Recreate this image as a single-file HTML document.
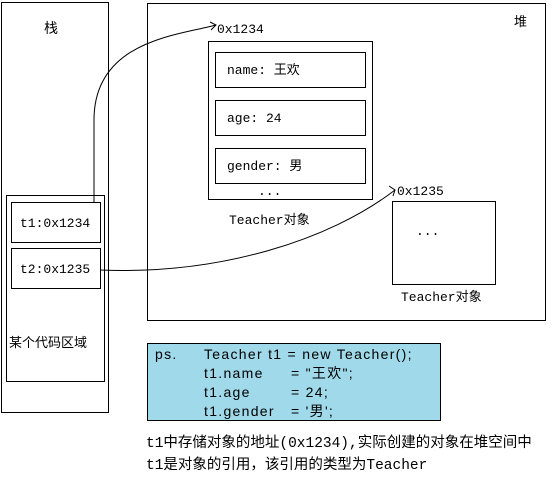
<!DOCTYPE html>
<html><head><meta charset="utf-8"><style>
body{margin:0;width:552px;height:485px;background:#fff;position:relative;overflow:hidden;font-family:"Liberation Mono","Noto Sans CJK SC",monospace;font-size:13px;color:#000}
.b{position:absolute;border:1px solid #000;box-sizing:border-box}
.t{position:absolute;white-space:pre;line-height:15px}
.c{position:absolute;white-space:pre;line-height:15px;font-family:'Liberation Sans','Noto Sans CJK SC',sans-serif;font-size:14px;letter-spacing:1.3px}
</style></head><body>
<div class="b" style="left:1px;top:2px;width:108px;height:411px"></div>
<div class="t" style="left:44px;top:21px;font-size:14px;font-family:'Noto Sans CJK SC',sans-serif">栈</div>
<div class="b" style="left:6px;top:195px;width:99px;height:187px"></div>
<div class="b" style="left:11px;top:202px;width:90px;height:41px"></div>
<div class="t" style="left:20px;top:216px">t1:0x1234</div>
<div class="b" style="left:11px;top:248px;width:90px;height:41px"></div>
<div class="t" style="left:20px;top:262px">t2:0x1235</div>
<div class="t" style="left:9px;top:334px;font-family:'Noto Sans CJK SC',sans-serif">某个代码区域</div>

<div class="b" style="left:147px;top:3px;width:399px;height:318px"></div>
<div class="t" style="left:514px;top:13px;font-family:'Noto Sans CJK SC',sans-serif">堆</div>
<div class="t" style="left:217px;top:22px">0x1234</div>
<div class="b" style="left:208px;top:41px;width:165px;height:159px"></div>
<div class="b" style="left:215px;top:52px;width:151px;height:36px"></div>
<div class="t" style="left:227px;top:63px">name: 王欢</div>
<div class="b" style="left:215px;top:100px;width:151px;height:36px"></div>
<div class="t" style="left:227px;top:111px">age: 24</div>
<div class="b" style="left:215px;top:148px;width:151px;height:36px"></div>
<div class="t" style="left:227px;top:159px">gender: 男</div>
<div class="t" style="left:258px;top:184px">...</div>
<div class="t" style="left:229px;top:213px">Teacher对象</div>
<div class="t" style="left:397px;top:184px">0x1235</div>
<div class="b" style="left:392px;top:201px;width:104px;height:84px"></div>
<div class="t" style="left:416px;top:224px">...</div>
<div class="t" style="left:401px;top:290px">Teacher对象</div>

<div class="b" style="left:147px;top:343px;width:294px;height:78px;background:#9fd9ea"></div>
<div class="c" style="left:155px;top:347px">ps.</div>
<div class="c" style="left:204px;top:347px">Teacher t1 = new Teacher();</div>
<div class="c" style="left:204px;top:366px">t1.name</div>
<div class="c" style="left:204px;top:385px">t1.age</div>
<div class="c" style="left:204px;top:404px">t1.gender</div>
<div class="c" style="left:291px;top:366px">= "王欢";</div>
<div class="c" style="left:291px;top:385px">= 24;</div>
<div class="c" style="left:291px;top:404px">= '男';</div>
<div class="t" style="left:146px;top:433px;line-height:22px;font-size:14.5px">t1中存储对象的地址(0x1234),实际创建的对象在堆空间中
t1是对象的引用，该引用的类型为Teacher</div>

<svg width="552" height="485" style="position:absolute;left:0;top:0" fill="none" stroke="#000" stroke-width="1">
<path d="M94,203 L94,120 C94,40 180,35 216,25"/>
<path d="M210,22 L216,25 L211,30"/>
<path d="M100,270 C220,275 330,240 395,190"/>
<path d="M389,186 L395,190 L393,196"/>
</svg>
</body></html>
